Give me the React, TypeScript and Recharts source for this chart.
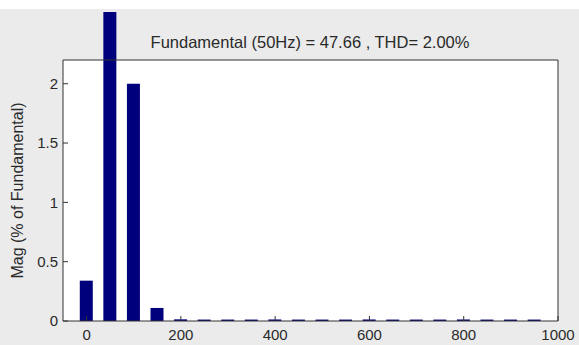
import { BarChart, Bar, XAxis, YAxis, CartesianGrid } from 'recharts';

// harmonic frequencies (Hz), DC up to 950 Hz
const freqs = [0, 50, 100, 150, 200, 250, 300, 350, 400, 450, 500, 550, 600, 650, 700, 750, 800, 850, 900, 950];
// magnitude in % of the fundamental (the 50 Hz bar is the fundamental itself)
const mags = [0.34, 100, 2.0, 0.11, 0.014, 0.012, 0.012, 0.012, 0.013, 0.012, 0.012, 0.012, 0.013, 0.012, 0.012, 0.012, 0.013, 0.012, 0.012, 0.012];

const xTicks = [0, 200, 400, 600, 800, 1000];
const yTicks = [0, 0.5, 1, 1.5, 2];

const fundamentalHz = 50;
const fundamentalMag = 47.66;
const thd = 2.0;

const data = freqs.map((f, i) => ({ f, mag: mags[i] }));

const font = '"Liberation Sans", Arial, sans-serif';
const tickStyle = { fontSize: 15, fill: '#2a2a2a', fontFamily: font };
const axisColor = '#333';

export default function App() {
  return (
    <div style={{ position: 'absolute', left: 0, top: 0, width: 579, height: 345, background: '#fff', overflow: 'hidden' }}>
      {/* the fundamental bar runs past the top of the axes, like the MATLAB figure */}
      <style>{'.spectrum .recharts-bar, .spectrum .recharts-bar-rectangles { clip-path: none; }'}</style>
      <div style={{ position: 'absolute', left: 0, top: 9, width: 579, height: 336, background: '#ebebeb' }} />
      <div className="spectrum" style={{ position: 'absolute', left: 0, top: 12, width: 579, height: 333, overflow: 'hidden' }}>
        <BarChart width={579} height={333} data={data} margin={{ top: 47, right: 0, bottom: 0, left: 0 }} barSize={13}>
          <CartesianGrid fill="#fff" stroke="none" horizontal={false} vertical={false} />
          <XAxis
            dataKey="f"
            type="number"
            domain={[-50, 1000]}
            ticks={xTicks}
            allowDataOverflow
            height={24}
            tickSize={-5}
            tickMargin={13}
            tick={tickStyle}
            axisLine={{ stroke: axisColor }}
            tickLine={{ stroke: axisColor }}
          />
          <XAxis
            xAxisId="top"
            orientation="top"
            dataKey="f"
            type="number"
            domain={[-50, 1000]}
            ticks={xTicks}
            allowDataOverflow
            height={1}
            tickSize={-5}
            tick={false}
            axisLine={{ stroke: axisColor }}
            tickLine={{ stroke: axisColor }}
          />
          <YAxis
            type="number"
            domain={[0, 2.2]}
            ticks={yTicks}
            allowDataOverflow
            width={63}
            tickSize={-5}
            tickMargin={10}
            tick={tickStyle}
            axisLine={{ stroke: axisColor }}
            tickLine={{ stroke: axisColor }}
            label={{
              value: 'Mag (% of Fundamental)',
              angle: -90,
              position: 'insideLeft',
              offset: 17,
              style: { textAnchor: 'middle', fontSize: 16, fill: '#2a2a2a', fontFamily: font },
            }}
          />
          <YAxis
            yAxisId="right"
            orientation="right"
            type="number"
            domain={[0, 2.2]}
            ticks={yTicks}
            allowDataOverflow
            width={21}
            tickSize={-5}
            tick={false}
            axisLine={{ stroke: axisColor }}
            tickLine={{ stroke: axisColor }}
          />
          <Bar dataKey="mag" fill="#00007c" isAnimationActive={false} />
        </BarChart>
      </div>
      <div
        style={{
          position: 'absolute',
          left: 63,
          top: 32,
          width: 494,
          textAlign: 'center',
          fontFamily: font,
          fontSize: 16.5,
          lineHeight: '20px',
          color: '#2a2a2a',
        }}
      >
        {`Fundamental (${fundamentalHz}Hz) = ${fundamentalMag} , THD= ${thd.toFixed(2)}%`}
      </div>
    </div>
  );
}
